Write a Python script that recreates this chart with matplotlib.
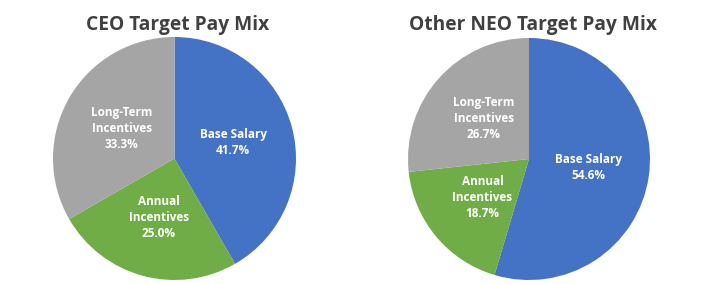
import matplotlib
matplotlib.use('Agg')
import matplotlib.pyplot as plt

#slice names and values
names=['Base Salary', 'Annual\nIncentives', 'Long-Term\nIncentives']
ceo_vals=[41.7, 25.0, 33.3]
neo_vals=[54.6, 18.7, 26.7]
titles=['CEO Target Pay Mix', 'Other NEO Target Pay Mix']
colors=['#4472C4', '#70AD47', '#A5A5A5']

fig=plt.figure(figsize=(7.1, 2.84), dpi=100)

#pie boxes in pixels: left, top, size
boxes=[(53, 37, 243), (408, 38, 242)]

for (px, py, size), vals, title, tx in zip(boxes, [ceo_vals, neo_vals], titles, [178, 533]):
    ax=fig.add_axes([px/710, (284-py-size)/284, size/710, size/284])
    labels=[n+'\n'+'%.1f%%' % v for n, v in zip(names, vals)]
    wedges, texts=ax.pie(vals, labels=labels, colors=colors, startangle=90,
                         counterclock=False, radius=1, labeldistance=0.5,
                         wedgeprops={'linewidth': 0})
    for t in texts:
        t.set_ha('center')
        t.set_va('center')
        t.set_color('white')
        t.set_fontsize(8.5)
        t.set_fontweight('bold')
        t.set_family('Open Sans')
        t.set_linespacing(1.3)
    ax.set_xlim(-1, 1)
    ax.set_ylim(-1, 1)
    fig.text(tx/710, 1-25/284, title, ha='center', va='center', fontsize=13.8,
             fontweight='bold', color='#404040', family='Open Sans')

plt.savefig('out.png', dpi=100)
